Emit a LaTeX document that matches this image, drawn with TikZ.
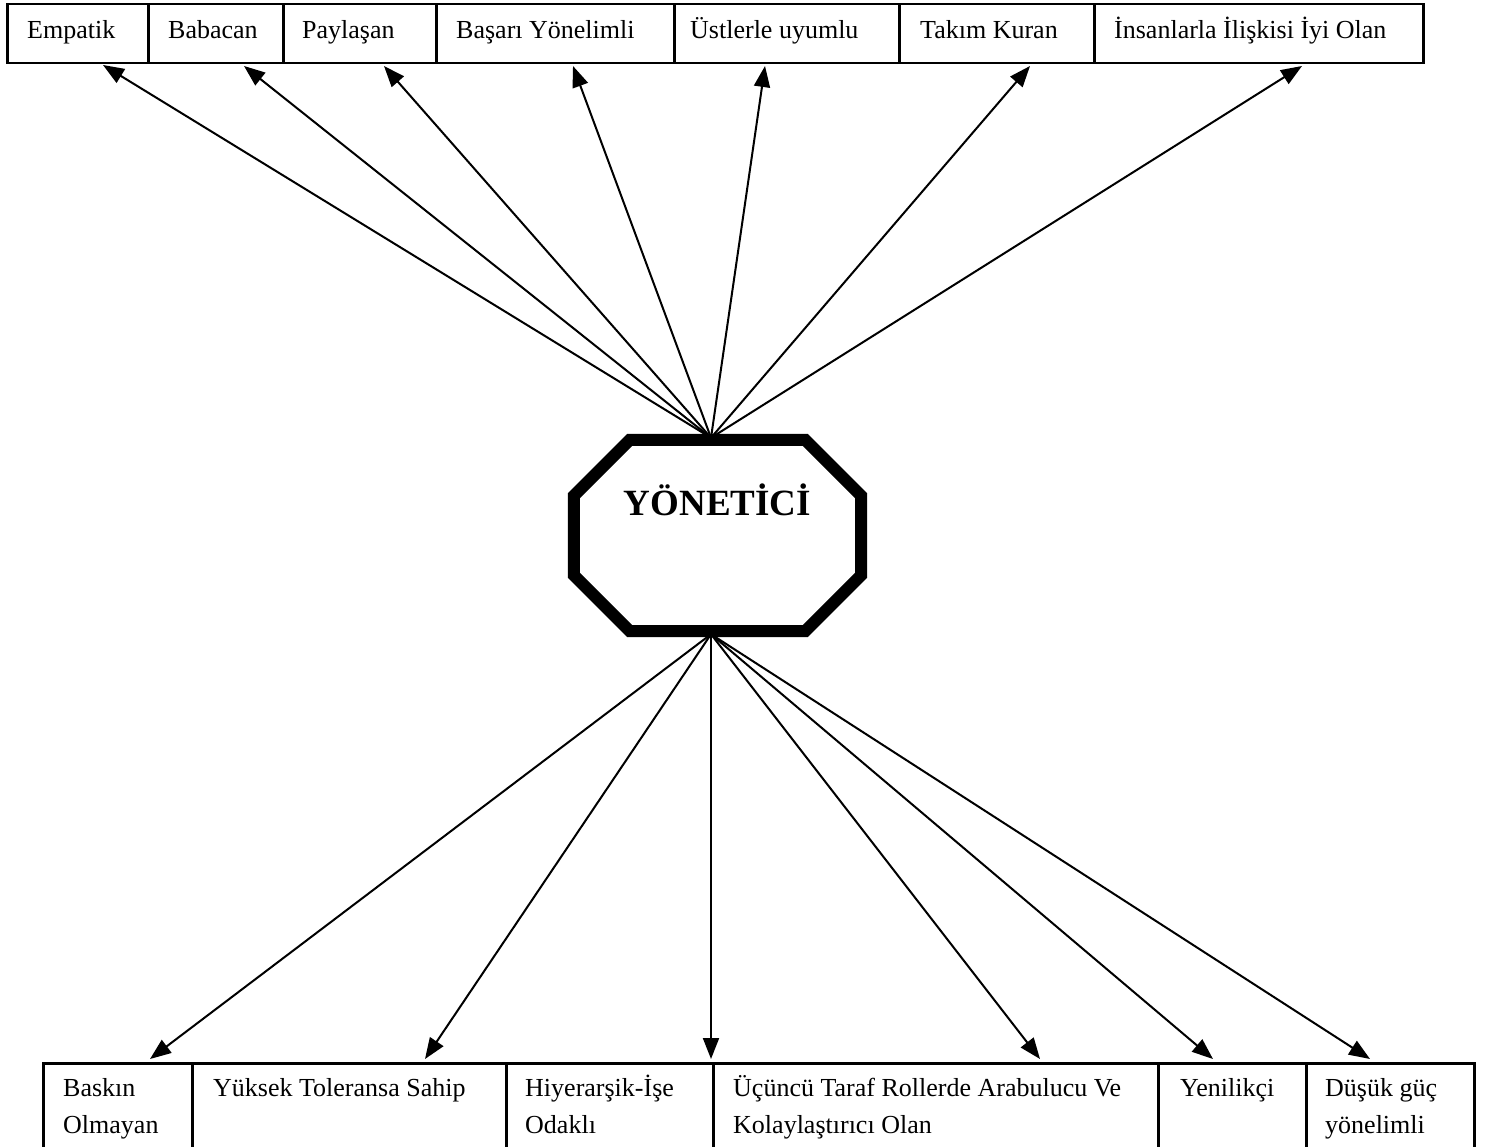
\documentclass[tikz,border=0pt]{standalone}
\usepackage{fontspec}
\setmainfont{Liberation Serif}
\usetikzlibrary{arrows.meta}
\begin{document}
\begin{tikzpicture}[x=1pt,y=-1pt,
  cell/.style={draw, line width=2.5pt, inner sep=0pt, anchor=north west},
  lbl/.style={anchor=north west, inner sep=0pt, align=left, font=\fontsize{26}{37}\selectfont},
  link/.style={line width=2pt, -{Triangle[length=21pt,width=16pt]}},
  octo/.style={line width=12pt, line join=miter}]
\useasboundingbox (0,0) rectangle (1487,1147);

% ---- upper row of qualities ----
\node[cell, minimum width=141pt, minimum height=59pt] (c1) at (6,3) {};
\node[cell, minimum width=135pt, minimum height=59pt] (c2) at (147,3) {};
\node[cell, minimum width=153pt, minimum height=59pt] (c3) at (282,3) {};
\node[cell, minimum width=238pt, minimum height=59pt] (c4) at (435,3) {};
\node[cell, minimum width=225pt, minimum height=59pt] (c5) at (673,3) {};
\node[cell, minimum width=195pt, minimum height=59pt] (c6) at (898,3) {};
\node[cell, minimum width=329pt, minimum height=59pt] (c7) at (1093,3) {};

\node[lbl] (t1) at (27,12.1)   {\strut Empatik};
\node[lbl] (t2) at (168,12.1)  {\strut Babacan};
\node[lbl] (t3) at (302,12.1)  {\strut Paylaşan};
\node[lbl] (t4) at (456,12.1)  {\strut Başarı Yönelimli};
\node[lbl] (t5) at (690,12.1)  {\strut Üstlerle uyumlu};
\node[lbl] (t6) at (920,12.1)  {\strut Takım Kuran};
\node[lbl] (t7) at (1114,12.1) {\strut İnsanlarla İlişkisi İyi Olan};

% ---- lower row of qualities ----
\node[cell, minimum width=149pt, minimum height=86pt] (d1) at (42,1062) {};
\node[cell, minimum width=314pt, minimum height=86pt] (d2) at (191,1062) {};
\node[cell, minimum width=207pt, minimum height=86pt] (d3) at (505,1062) {};
\node[cell, minimum width=445pt, minimum height=86pt] (d4) at (712,1062) {};
\node[cell, minimum width=148pt, minimum height=86pt] (d5) at (1157,1062) {};
\node[cell, minimum width=168pt, minimum height=86pt] (d6) at (1305,1062) {};

\node[lbl] (u1) at (63,1070.1)   {\strut Baskın\\Olmayan};
\node[lbl] (u2) at (213,1070.1)  {\strut Yüksek Toleransa Sahip};
\node[lbl] (u3) at (525,1070.1)  {\strut Hiyerarşik-İşe\\Odaklı};
\node[lbl] (u4) at (733,1070.1)  {\strut Üçüncü Taraf Rollerde Arabulucu Ve\\Kolaylaştırıcı Olan};
\node[lbl] (u5) at (1180,1070.1) {\strut Yenilikçi};
\node[lbl] (u6) at (1325,1070.1) {\strut Düşük güç\\yönelimli};

% ---- central manager octagon ----
\node[minimum width=287pt, minimum height=191pt, inner sep=0pt,
      text height=25pt, text depth=66pt,
      font=\bfseries\fontsize{37}{40}\selectfont] (mgr) at (717.5,535.5) {YÖNETİCİ};
\draw[octo] ([xshift=56pt]mgr.north west) -- ([xshift=-56pt]mgr.north east)
  -- ([yshift=-56pt]mgr.north east) -- ([yshift=56pt]mgr.south east)
  -- ([xshift=-56pt]mgr.south east) -- ([xshift=56pt]mgr.south west)
  -- ([yshift=56pt]mgr.south west) -- ([yshift=-56pt]mgr.north west) -- cycle;

\coordinate (hubT) at ([xshift=-6.5pt,yshift=2pt]mgr.north);
\coordinate (hubB) at ([xshift=-6.5pt,yshift=-3pt]mgr.south);

% arrow tips under the upper cells
\coordinate (a1) at (103,65);
\coordinate (a2) at (244,66);
\coordinate (a3) at (384,66);
\coordinate (a4) at (573,66);
\coordinate (a5) at (765,66);
\coordinate (a6) at (1030,66);
\coordinate (a7) at (1302,66);
% arrow tips above the lower cells
\coordinate (b1) at (150,1059);
\coordinate (b2) at (425,1059);
\coordinate (b3) at (711,1059);
\coordinate (b4) at (1040,1059);
\coordinate (b5) at (1213,1059);
\coordinate (b6) at (1370,1059);

\foreach \t in {a1,a2,a3,a4,a5,a6,a7} \draw[link] (hubT) -- (\t);
\foreach \t in {b1,b2,b3,b4,b5,b6} \draw[link] (hubB) -- (\t);
\end{tikzpicture}
\end{document}
